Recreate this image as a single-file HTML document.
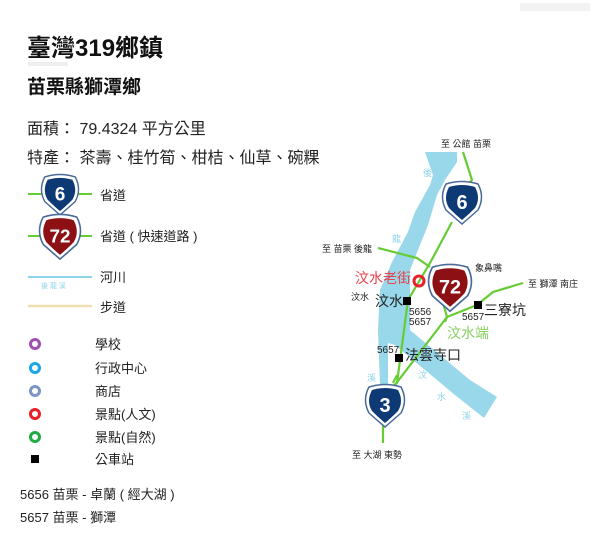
<!DOCTYPE html>
<html><head><meta charset="utf-8"><style>
html,body{margin:0;padding:0;background:#fff;}
svg{display:block;font-family:"Liberation Sans","Noto Sans CJK TC",sans-serif;}
</style></head><body>
<svg width="600" height="535" viewBox="0 0 600 535" xmlns="http://www.w3.org/2000/svg">
<defs>
<g id="sh">
<path d="M-16,-18 Q0,-23 16,-18 Q23,-5 16,8 Q7,16 0,22 Q-7,16 -16,8 Q-23,-5 -16,-18 Z" fill="#fff" stroke="#4a6a99" stroke-width="1.5"/>
</g>
</defs>
<rect x="28" y="62" width="40" height="4" fill="#eee"/>
<rect x="520" y="3" width="70" height="8" fill="#f2f2f2"/>
<text x="27" y="56" font-size="24" font-weight="bold" fill="#111">臺灣319鄉鎮</text>
<text x="27" y="93" font-size="19" font-weight="bold" fill="#111">苗栗縣獅潭鄉</text>
<text x="27" y="134" font-size="16" fill="#222">面積： 79.4324 平方公里</text>
<text x="27" y="163" font-size="16" fill="#222">特產： 茶壽、桂竹筍、柑桔、仙草、碗粿</text>

<!-- legend -->
<line x1="28" y1="194" x2="92" y2="194" stroke="#66cc33" stroke-width="2"/>
<g transform="translate(60,194) scale(0.95)"><path d="M-16,-18 Q0,-23 16,-18 Q23,-5 16,8 Q7,16 0,22 Q-7,16 -16,8 Q-23,-5 -16,-18 Z" fill="#fff" stroke="#4a6a99" stroke-width="1.5"/><path d="M-13,-15 Q0,-19 13,-15 Q19,-4 13,6 Q6,13 0,18 Q-6,13 -13,6 Q-19,-4 -13,-15 Z" fill="#0d3a75"/><text x="0" y="7" font-size="20" font-weight="bold" fill="#fff" text-anchor="middle">6</text></g>
<text x="100" y="200" font-size="13" fill="#222">省道</text>
<line x1="28" y1="236" x2="92" y2="236" stroke="#66cc33" stroke-width="2"/>
<g transform="translate(60,236) scale(1.05)"><path d="M-16,-18 Q0,-23 16,-18 Q23,-5 16,8 Q7,16 0,22 Q-7,16 -16,8 Q-23,-5 -16,-18 Z" fill="#fff" stroke="#4a6a99" stroke-width="1.5"/><path d="M-13,-15 Q0,-19 13,-15 Q19,-4 13,6 Q6,13 0,18 Q-6,13 -13,6 Q-19,-4 -13,-15 Z" fill="#8c1014"/><text x="0" y="6" font-size="18" font-weight="bold" fill="#fff" text-anchor="middle">72</text></g>
<text x="100" y="241" font-size="13" fill="#222">省道 ( 快速道路 )</text>
<line x1="28" y1="277" x2="92" y2="277" stroke="#8fd3e8" stroke-width="2"/>
<text x="41" y="288" font-size="7" fill="#8fd3e8">後 龍 溪</text>
<text x="100" y="282" font-size="13" fill="#222">河川</text>
<line x1="28" y1="306" x2="92" y2="306" stroke="#efe0b0" stroke-width="2.5"/>
<text x="100" y="312" font-size="13" fill="#222">步道</text>
<circle cx="35" cy="344" r="4.5" fill="none" stroke="#a04eb0" stroke-width="3"/>
<circle cx="35" cy="368" r="4.5" fill="none" stroke="#1aa6e8" stroke-width="3"/>
<circle cx="35" cy="391" r="4.5" fill="none" stroke="#7a96c4" stroke-width="3"/>
<circle cx="35" cy="414" r="4.5" fill="none" stroke="#e8202a" stroke-width="3"/>
<circle cx="35" cy="437" r="4.5" fill="none" stroke="#22aa44" stroke-width="3"/>
<rect x="31" y="455" width="8" height="8" fill="#000"/>
<g font-size="13" fill="#222">
<text x="95" y="349">學校</text><text x="95" y="373">行政中心</text><text x="95" y="396">商店</text>
<text x="95" y="419">景點(人文)</text><text x="95" y="442">景點(自然)</text><text x="95" y="464">公車站</text>
<text x="20" y="499">5656 苗栗 - 卓蘭 ( 經大湖 )</text>
<text x="20" y="522">5657 苗栗 - 獅潭</text>
</g>

<!-- river -->
<path d="M425,152 L457,152 L457,162 L445,180 L437,195 L428,225 L418,250 L410,270 L410,330 L440,355 L470,380 L497,397 L484,418 L455,395 L425,370 L395,345 L388,343 L388,385 L380,385 L378,330 L380,290 L392,262 L408,232 L415,212 L430,185 L433,175 Z" fill="#98d8ea"/>
<g font-size="9" fill="#8fd3e8"><text x="423" y="176">後</text><text x="392" y="242">龍</text><text x="367" y="381">溪</text><text x="418" y="378">汶</text><text x="437" y="400">水</text><text x="462" y="419">溪</text></g>

<!-- roads -->
<g fill="none" stroke="#66cc33" stroke-width="2.2">
<polyline points="463,152 472,180 468,184"/>
<polyline points="452,222 430,263 408,300 397,383 383,395"/>
<polyline points="388,394 447,317 477,305 493,292 523,283"/>
<polyline points="378,248 417,258 430,267"/>
<polyline points="443,303 447,317 445,322"/>
<polyline points="383,425 383,443"/>
<polyline points="393,383 397,375"/>
</g>

<!-- shields on map -->
<g transform="translate(462,202)"><path d="M-16,-18 Q0,-23 16,-18 Q23,-5 16,8 Q7,16 0,22 Q-7,16 -16,8 Q-23,-5 -16,-18 Z" fill="#fff" stroke="#4a6a99" stroke-width="1.5"/><path d="M-13,-15 Q0,-19 13,-15 Q19,-4 13,6 Q6,13 0,18 Q-6,13 -13,6 Q-19,-4 -13,-15 Z" fill="#0d3a75"/><text x="0" y="7" font-size="20" font-weight="bold" fill="#fff" text-anchor="middle">6</text></g>
<g transform="translate(450,287) scale(1.1)"><path d="M-16,-18 Q0,-23 16,-18 Q23,-5 16,8 Q7,16 0,22 Q-7,16 -16,8 Q-23,-5 -16,-18 Z" fill="#fff" stroke="#4a6a99" stroke-width="1.5"/><path d="M-13,-15 Q0,-19 13,-15 Q19,-4 13,6 Q6,13 0,18 Q-6,13 -13,6 Q-19,-4 -13,-15 Z" fill="#8c1014"/><text x="0" y="6" font-size="18" font-weight="bold" fill="#fff" text-anchor="middle">72</text></g>
<g transform="translate(385,405)"><path d="M-16,-18 Q0,-23 16,-18 Q23,-5 16,8 Q7,16 0,22 Q-7,16 -16,8 Q-23,-5 -16,-18 Z" fill="#fff" stroke="#4a6a99" stroke-width="1.5"/><path d="M-13,-15 Q0,-19 13,-15 Q19,-4 13,6 Q6,13 0,18 Q-6,13 -13,6 Q-19,-4 -13,-15 Z" fill="#0d3a75"/><text x="0" y="7" font-size="20" font-weight="bold" fill="#fff" text-anchor="middle">3</text></g>

<circle cx="419" cy="281" r="5" fill="none" stroke="#e8202a" stroke-width="3"/>
<rect x="403" y="297" width="8" height="8" fill="#000"/>
<rect x="474" y="301" width="8" height="8" fill="#000"/>
<rect x="395" y="354" width="8" height="8" fill="#000"/>

<g font-size="9" fill="#222">
<text x="441" y="147">至 公館 苗栗</text>
<text x="322" y="252">至 苗栗 後龍</text>
<text x="475" y="271">象鼻嘴</text>
<text x="528" y="287">至 獅潭 南庄</text>
<text x="351" y="300">汶水</text>
<text x="352" y="458">至 大湖 東勢</text>
<text x="409" y="315" font-size="10">5656</text>
<text x="409" y="325" font-size="10">5657</text>
<text x="462" y="320" font-size="10">5657</text>
<text x="377" y="353" font-size="10">5657</text>
</g>
<text x="355" y="283" font-size="14" fill="#e8404a">汶水老街</text>
<text x="375" y="306" font-size="14" fill="#222">汶水</text>
<text x="484" y="315" font-size="14" fill="#222">三寮坑</text>
<text x="447" y="338" font-size="14" fill="#88d060">汶水端</text>
<text x="405" y="360" font-size="14" fill="#222">法雲寺口</text>
</svg>
</body></html>
